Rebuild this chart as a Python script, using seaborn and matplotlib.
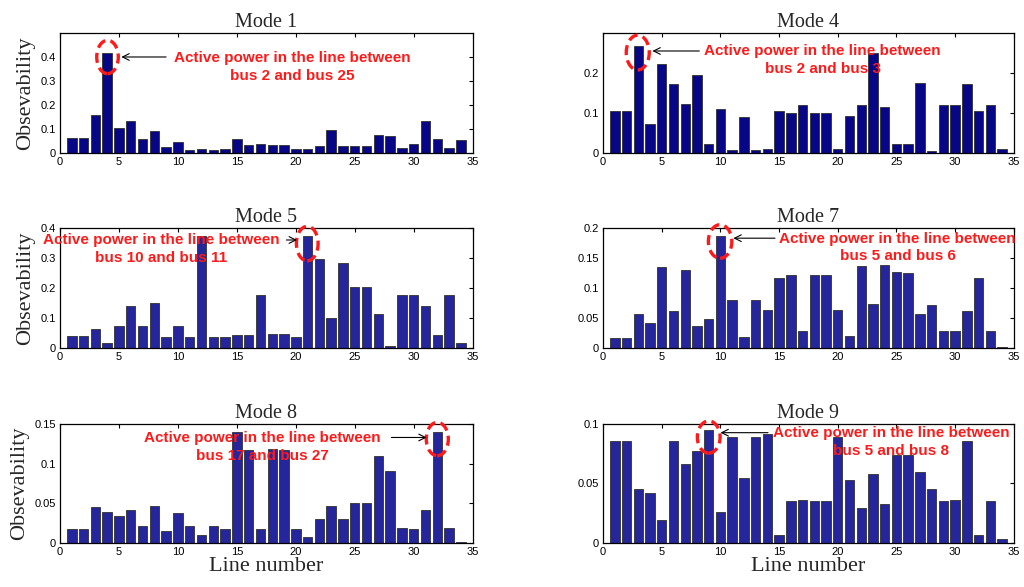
import numpy as np
import pandas as pd
import matplotlib
matplotlib.use("Agg")
import matplotlib.pyplot as plt
from matplotlib.patches import Ellipse
from matplotlib.ticker import FuncFormatter
import seaborn as sns

# line numbers 1..34
lines = list(range(1, 35))

mode1 = [0.064, 0.064, 0.158, 0.417, 0.105, 0.133, 0.058, 0.090, 0.024, 0.044,
         0.012, 0.015, 0.012, 0.015, 0.058, 0.035, 0.039, 0.035, 0.035, 0.017,
         0.017, 0.028, 0.094, 0.028, 0.030, 0.030, 0.076, 0.069, 0.020, 0.037,
         0.133, 0.058, 0.020, 0.055]
mode4 = [0.104, 0.104, 0.267, 0.072, 0.223, 0.172, 0.123, 0.194, 0.023, 0.110,
         0.008, 0.091, 0.008, 0.011, 0.106, 0.101, 0.121, 0.101, 0.101, 0.011,
         0.093, 0.119, 0.249, 0.116, 0.023, 0.023, 0.175, 0.004, 0.120, 0.120,
         0.172, 0.106, 0.120, 0.011]
mode5 = [0.040, 0.040, 0.064, 0.018, 0.072, 0.139, 0.072, 0.151, 0.037, 0.072,
         0.035, 0.372, 0.035, 0.035, 0.044, 0.044, 0.176, 0.046, 0.046, 0.035,
         0.372, 0.298, 0.101, 0.283, 0.202, 0.202, 0.112, 0.008, 0.176, 0.176,
         0.139, 0.043, 0.176, 0.015]
mode7 = [0.016, 0.016, 0.056, 0.041, 0.135, 0.061, 0.130, 0.037, 0.048, 0.187,
         0.080, 0.019, 0.080, 0.064, 0.117, 0.121, 0.029, 0.122, 0.121, 0.064,
         0.020, 0.136, 0.074, 0.139, 0.126, 0.125, 0.056, 0.071, 0.029, 0.029,
         0.061, 0.117, 0.029, 0.001]
mode8 = [0.017, 0.017, 0.045, 0.039, 0.034, 0.041, 0.021, 0.047, 0.015, 0.038,
         0.022, 0.010, 0.022, 0.018, 0.140, 0.117, 0.018, 0.119, 0.117, 0.018,
         0.008, 0.030, 0.047, 0.030, 0.050, 0.050, 0.110, 0.091, 0.019, 0.018,
         0.042, 0.140, 0.019, 0.001]
mode9 = [0.086, 0.086, 0.045, 0.042, 0.019, 0.086, 0.066, 0.077, 0.095, 0.026,
         0.089, 0.055, 0.089, 0.092, 0.0065, 0.035, 0.036, 0.035, 0.035, 0.089,
         0.053, 0.029, 0.058, 0.033, 0.074, 0.074, 0.060, 0.045, 0.035, 0.036,
         0.086, 0.0065, 0.035, 0.003]

titles = ["Mode 1", "Mode 4", "Mode 5", "Mode 7", "Mode 8", "Mode 9"]
notes = ["Active power in the line between\nbus 2 and bus 25",
         "Active power in the line between\nbus 2 and bus 3",
         "Active power in the line between\nbus 10 and bus 11",
         "Active power in the line between\nbus 5 and bus 6",
         "Active power in the line between\nbus 17 and bus 27",
         "Active power in the line between\nbus 5 and bus 8"]
series = [mode1, mode4, mode5, mode7, mode8, mode9]

# layout of each panel: ylim, yticks, ellipse (x, y, w, h), text (x, y), arrow (from, to)
panels = [
    dict(ylim=0.5, yticks=[0, 0.1, 0.2, 0.3, 0.4], ell=(4.03, 0.40, 1.83, 0.139),
         txt=(19.7, 0.36), arr=((9.0, 0.40), (5.2, 0.40))),
    dict(ylim=0.3, yticks=[0, 0.1, 0.2], ell=(2.95, 0.251, 1.96, 0.087),
         txt=(18.7, 0.232), arr=((8.2, 0.255), (4.2, 0.255))),
    dict(ylim=0.4, yticks=[0, 0.1, 0.2, 0.3, 0.4], ell=(20.97, 0.348, 1.84, 0.115),
         txt=(8.6, 0.33), arr=((19.2, 0.36), (20.1, 0.36))),
    dict(ylim=0.2, yticks=[0, 0.05, 0.1, 0.15, 0.2], ell=(9.97, 0.1775, 2.0, 0.056),
         txt=(25.1, 0.1675), arr=((14.65, 0.183), (11.1, 0.183))),
    dict(ylim=0.15, yticks=[0, 0.05, 0.1, 0.15], ell=(32.0, 0.131, 1.87, 0.042),
         txt=(17.16, 0.1215), arr=((28.1, 0.133), (31.1, 0.133))),
    dict(ylim=0.1, yticks=[0, 0.05, 0.1], ell=(9.0, 0.089, 1.94, 0.027),
         txt=(24.55, 0.085), arr=((14.05, 0.0927), (10.0, 0.0927))),
]

# axes rectangles in figure fractions
col_x = [0.0586, 0.589]
col_w = [0.403, 0.401]
row_y = [0.7394, 0.4072, 0.075]
row_h = [0.2044, 0.2044, 0.2027]
bar_colors = ["#060686", "#26269c", "#26269c"]

sns.set_theme(style="white")
plt.rcParams["font.family"] = ["Liberation Sans", "DejaVu Sans"]

fig = plt.figure(figsize=(10.24, 5.87), dpi=100)

for i, vals in enumerate(series):
    r, c = divmod(i, 2)
    p = panels[i]
    ax = fig.add_axes([col_x[c], row_y[r], col_w[c], row_h[r]])
    df = pd.DataFrame({"line": lines, "obs": vals})
    sns.barplot(data=df, x="line", y="obs", native_scale=True, ax=ax,
                color=bar_colors[r], saturation=1, width=0.8, errorbar=None,
                edgecolor="#303030", linewidth=0.6)

    ax.set_xlim(0, 35)
    ax.set_ylim(0, p["ylim"])
    ax.set_xticks(range(0, 36, 5))
    ax.set_yticks(p["yticks"])
    ax.yaxis.set_major_formatter(FuncFormatter(lambda v, pos: f"{v:g}"))
    ax.tick_params(direction="in", length=3, width=0.8, top=True, right=True,
                   labelsize=8, colors="black", pad=3)
    for s in ax.spines.values():
        s.set_color("black")
        s.set_linewidth(0.9)

    ax.set_title(titles[i], family="Liberation Serif", fontsize=14.5, pad=4)
    ax.set_xlabel("Line number" if r == 2 else "", family="Liberation Serif",
                  fontsize=16, labelpad=0)
    ax.set_ylabel("Obsevability" if c == 0 else "", family="Liberation Serif",
                  fontsize=16, labelpad=4)

    ex, ey, ew, eh = p["ell"]
    ax.add_patch(Ellipse((ex, ey), ew, eh, fill=False, edgecolor="#ff1a1a",
                         lw=2.4, linestyle=(0, (3, 1.6)), zorder=5, clip_on=False))
    ax.text(p["txt"][0], p["txt"][1], notes[i], ha="center", va="center",
            color="#ff1a1a", fontsize=11, fontweight="bold", linespacing=1.35,
            zorder=6)
    ax.annotate("", xy=p["arr"][1], xytext=p["arr"][0],
                arrowprops=dict(arrowstyle="->", color="black", lw=0.8,
                                shrinkA=0, shrinkB=0), zorder=6)

fig.savefig("out.png", dpi=100)
